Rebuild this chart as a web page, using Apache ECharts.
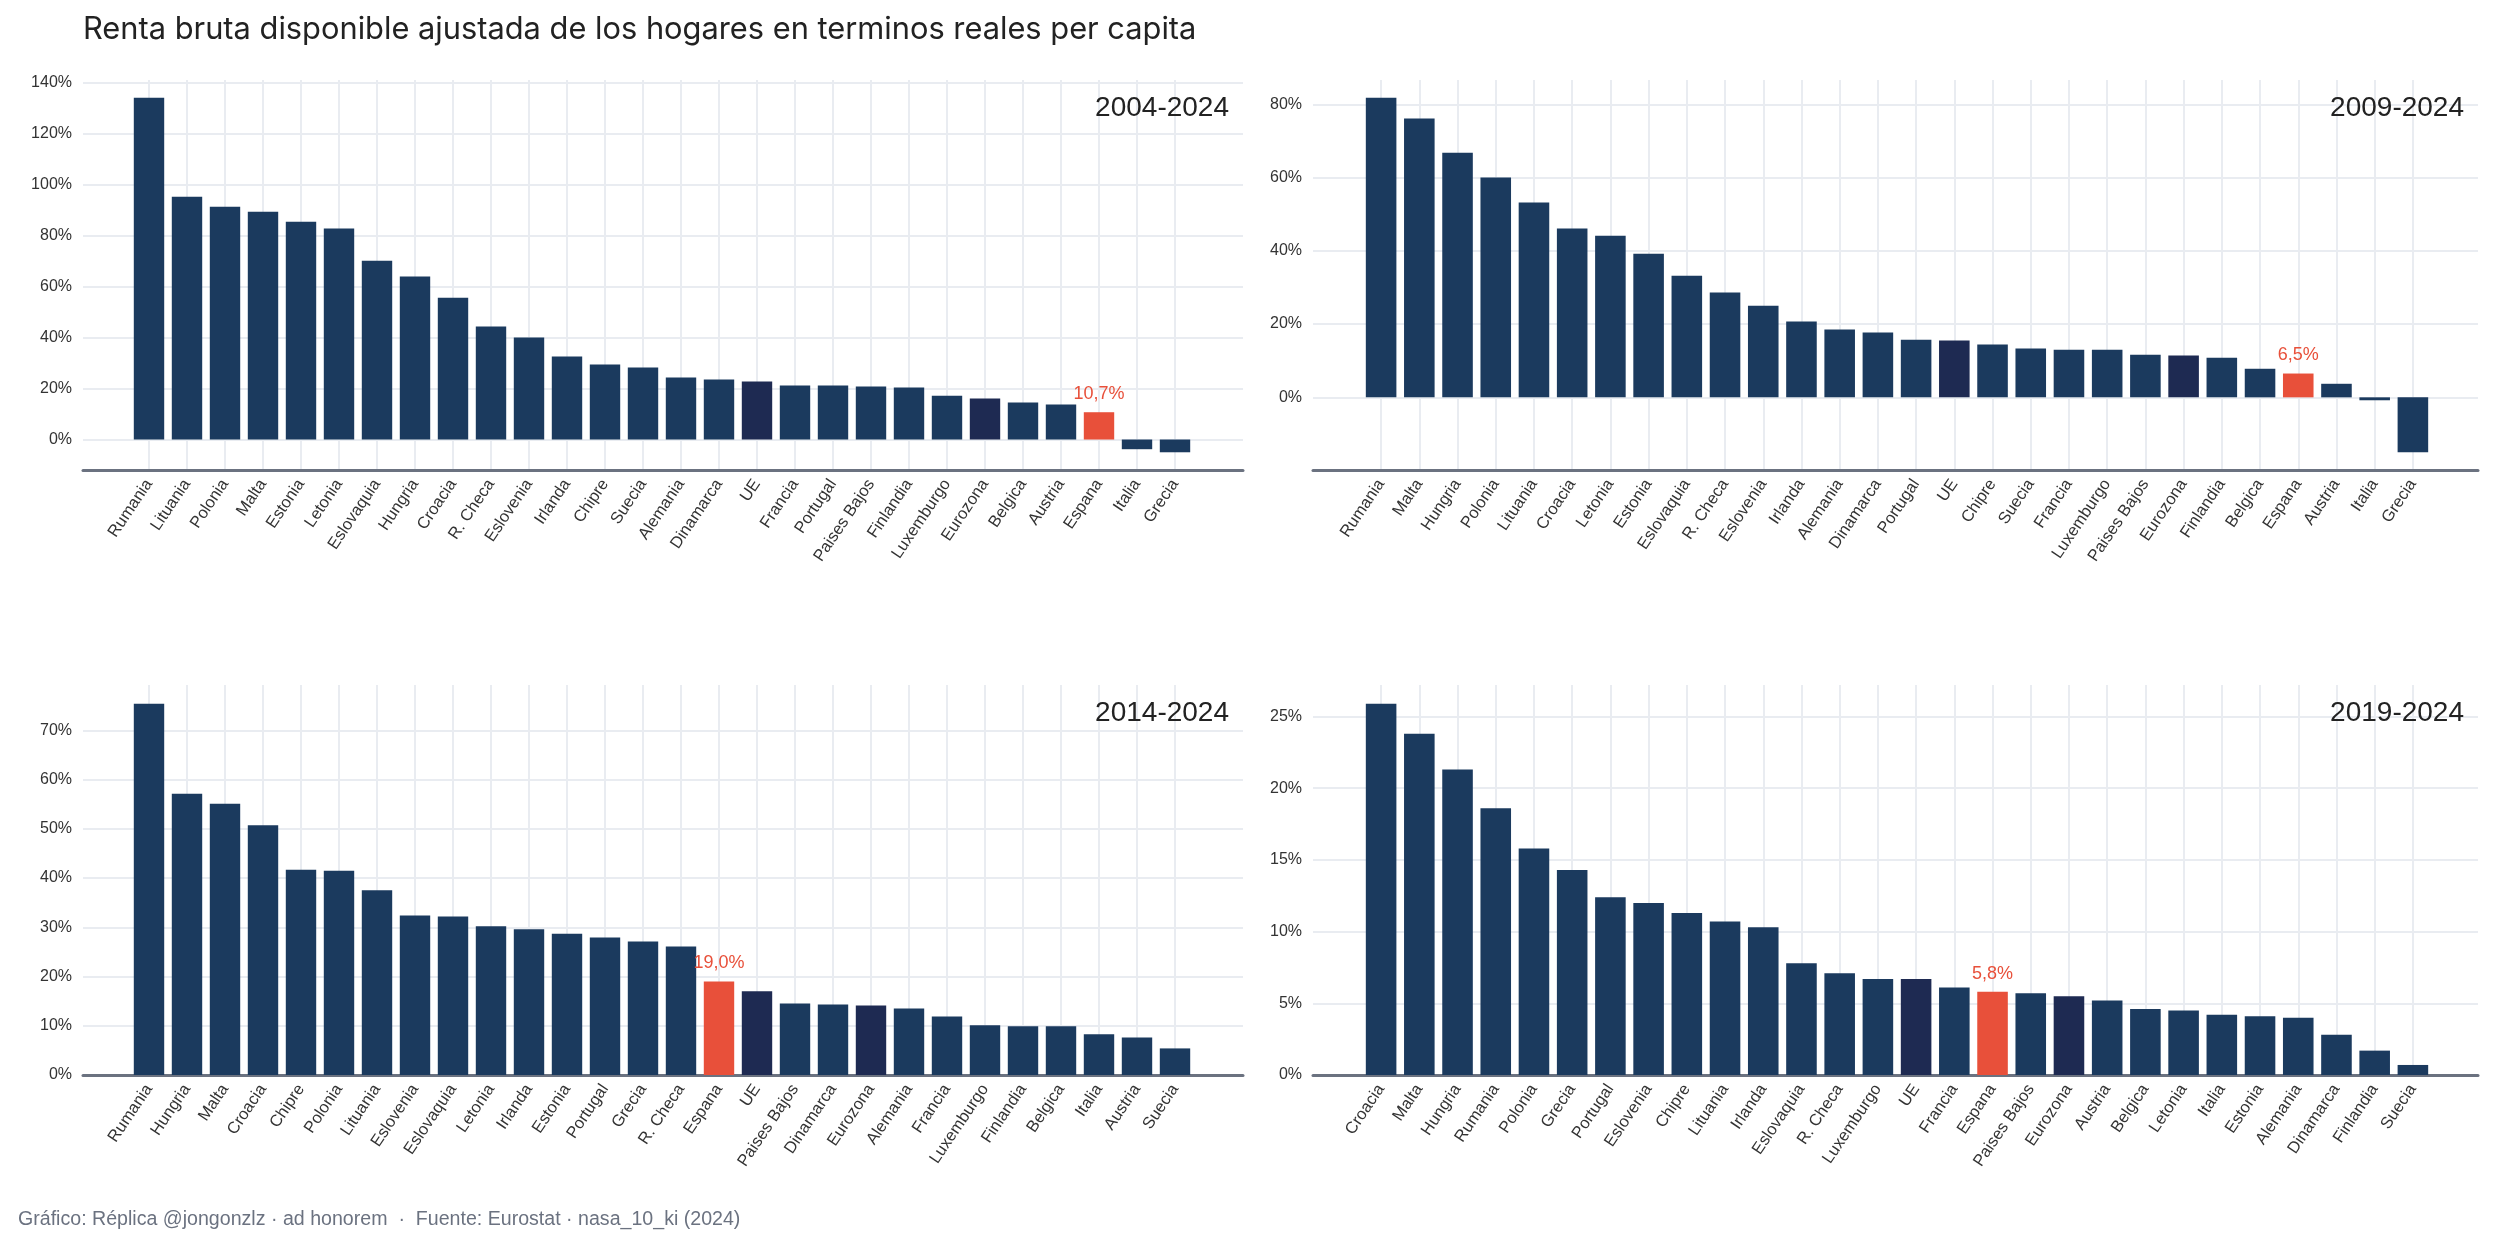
<!DOCTYPE html>
<html>
<head>
<meta charset="utf-8">
<title>Renta bruta disponible ajustada</title>
<script src="https://cdn.jsdelivr.net/npm/echarts@6/dist/echarts.min.js"></script>
<style>
  html, body { margin: 0; padding: 0; background: #fff; }
  #ech { width: 2493px; height: 1255px; }
</style>
</head>
<body>
<div id="ech"></div>
<script>
// datos (% de variacion)
var cats1 = ['Rumania', 'Lituania', 'Polonia', 'Malta', 'Estonia', 'Letonia', 'Eslovaquia', 'Hungria', 'Croacia', 'R. Checa', 'Eslovenia', 'Irlanda', 'Chipre', 'Suecia', 'Alemania', 'Dinamarca', 'UE', 'Francia', 'Portugal', 'Paises Bajos', 'Finlandia', 'Luxemburgo', 'Eurozona', 'Belgica', 'Austria', 'Espana', 'Italia', 'Grecia'];
var vals1 = [134.0, 95.2, 91.3, 89.3, 85.4, 82.7, 70.1, 63.9, 55.6, 44.3, 40.0, 32.5, 29.4, 28.2, 24.3, 23.5, 22.7, 21.2, 21.2, 20.8, 20.4, 17.2, 16.1, 14.5, 13.7, 10.7, -3.8, -5.0];

var cats2 = ['Rumania', 'Malta', 'Hungria', 'Polonia', 'Lituania', 'Croacia', 'Letonia', 'Estonia', 'Eslovaquia', 'R. Checa', 'Eslovenia', 'Irlanda', 'Alemania', 'Dinamarca', 'Portugal', 'UE', 'Chipre', 'Suecia', 'Francia', 'Luxemburgo', 'Paises Bajos', 'Eurozona', 'Finlandia', 'Belgica', 'Espana', 'Austria', 'Italia', 'Grecia'];
var vals2 = [81.8, 76.1, 66.8, 60.0, 53.2, 46.1, 44.1, 39.2, 33.2, 28.6, 25.0, 20.7, 18.5, 17.7, 15.7, 15.5, 14.4, 13.3, 13.0, 13.0, 11.6, 11.4, 10.8, 7.8, 6.5, 3.7, -0.8, -15.0];

var cats3 = ['Rumania', 'Hungria', 'Malta', 'Croacia', 'Chipre', 'Polonia', 'Lituania', 'Eslovenia', 'Eslovaquia', 'Letonia', 'Irlanda', 'Estonia', 'Portugal', 'Grecia', 'R. Checa', 'Espana', 'UE', 'Paises Bajos', 'Dinamarca', 'Eurozona', 'Alemania', 'Francia', 'Luxemburgo', 'Finlandia', 'Belgica', 'Italia', 'Austria', 'Suecia'];
var vals3 = [75.4, 57.1, 55.1, 50.7, 41.7, 41.5, 37.5, 32.4, 32.2, 30.2, 29.6, 28.7, 27.9, 27.1, 26.1, 19.0, 17.0, 14.5, 14.3, 14.1, 13.5, 11.9, 10.1, 9.9, 9.9, 8.3, 7.6, 5.4];

var cats4 = ['Croacia', 'Malta', 'Hungria', 'Rumania', 'Polonia', 'Grecia', 'Portugal', 'Eslovenia', 'Chipre', 'Lituania', 'Irlanda', 'Eslovaquia', 'R. Checa', 'Luxemburgo', 'UE', 'Francia', 'Espana', 'Paises Bajos', 'Eurozona', 'Austria', 'Belgica', 'Letonia', 'Italia', 'Estonia', 'Alemania', 'Dinamarca', 'Finlandia', 'Suecia'];
var vals4 = [25.9, 23.8, 21.3, 18.6, 15.8, 14.3, 12.4, 12.0, 11.3, 10.7, 10.3, 7.8, 7.1, 6.7, 6.7, 6.1, 5.8, 5.7, 5.5, 5.2, 4.6, 4.5, 4.2, 4.1, 4.0, 2.8, 1.7, 0.7];

var ticks1 = [0, 20, 40, 60, 80, 100, 120, 140];
var ticks2 = [0, 20, 40, 60, 80];
var ticks3 = [0, 10, 20, 30, 40, 50, 60, 70];
var ticks4 = [0, 5, 10, 15, 20, 25];

var periods = ['2004-2024', '2009-2024', '2014-2024', '2019-2024'];

var FONT = '"Liberation Sans", Arial, Helvetica, sans-serif';
var TITLE_FONT = 'Inter, "Liberation Sans", Arial, sans-serif';
var NAVY = '#1b3a5e', DARK = '#1e2a52', RED = '#e8503a', GRID = '#e9ecf1';

// posicion de cada panel (grid ancho = fondo, grid estrecho = barras)
var panels = [
	{cats: cats1, vals: vals1, ticks: ticks1, min: -11.95, max: 140.95, left: 83, top: 80, width: 1160, barLeft: 130, barWidth: 1064},
	{cats: cats2, vals: vals2, ticks: ticks2, min: -19.84, max: 86.64, left: 1313, top: 80, width: 1165, barLeft: 1362, barWidth: 1070},
	{cats: cats3, vals: vals3, ticks: ticks3, min: 0, max: 79.2, left: 83, top: 685, width: 1160, barLeft: 130, barWidth: 1064},
	{cats: cats4, vals: vals4, ticks: ticks4, min: 0, max: 27.2, left: 1313, top: 685, width: 1165, barLeft: 1362, barWidth: 1070}
];
var H = 390;

function pct(v) {
	return v.toFixed(1).replace('.', ',') + '%';
}

function showEchart() {
	var myChart = echarts.init(document.getElementById('ech'));
	var grid = [], xAxis = [], yAxis = [], series = [], graphic = [];

	panels.forEach(function(p, i) {
		var gw = 2 * i, gb = 2 * i + 1;
		grid.push({left: p.left, top: p.top, width: p.width, height: H, outerBoundsMode: 'none'});
		grid.push({left: p.barLeft, top: p.top, width: p.barWidth, height: H, outerBoundsMode: 'none'});

		xAxis.push({
			gridIndex: gw, type: 'value', min: 0, max: 1,
			axisLine: {show: true, onZero: false, lineStyle: {color: '#6b7280', width: 3}},
			axisTick: {show: false}, axisLabel: {show: false}, splitLine: {show: false}
		});
		xAxis.push({
			gridIndex: gb, type: 'category', data: p.cats,
			axisLine: {show: false}, axisTick: {show: false},
			axisLabel: {interval: 0, rotate: 56, margin: 11, fontSize: 16.5, color: '#333', fontFamily: FONT},
			splitLine: {show: true, alignWithLabel: true, lineStyle: {color: GRID, width: 2}}
		});

		yAxis.push({
			gridIndex: gw, type: 'value', min: p.min, max: p.max,
			axisLine: {show: false},
			axisTick: {show: false, customValues: p.ticks},
			axisLabel: {customValues: p.ticks, formatter: '{value}%', fontSize: 16, color: '#333', margin: 11, fontFamily: FONT},
			splitLine: {show: true, lineStyle: {color: GRID, width: 2}}
		});
		yAxis.push({gridIndex: gb, type: 'value', min: p.min, max: p.max, show: false});

		series.push({
			type: 'bar',
			xAxisIndex: gb, yAxisIndex: gb,
			barCategoryGap: '20%',
			data: p.vals.map(function(v, k) {
				var c = p.cats[k];
				var item = {value: v, itemStyle: {color: c === 'Espana' ? RED : (c === 'UE' || c === 'Eurozona') ? DARK : NAVY}};
				if (c === 'Espana') {
					item.label = {show: true, position: 'top', distance: 9, formatter: pct(v), color: RED, fontSize: 18, fontFamily: FONT};
				}
				return item;
			})
		});

		graphic.push({
			type: 'text', z: 100,
			style: {x: p.left + p.width - 14, y: p.top + 28, text: periods[i], align: 'right', verticalAlign: 'middle', fill: '#222', font: '28px ' + FONT}
		});
	});

	graphic.push({
		type: 'text', z: 100,
		style: {x: 83, y: 30, text: 'Renta bruta disponible ajustada de los hogares en terminos reales per capita', align: 'left', verticalAlign: 'middle', fill: '#222', font: '30.8px ' + TITLE_FONT}
	});
	graphic.push({
		type: 'text', z: 100,
		style: {x: 18, y: 1220, text: 'Gráfico: Réplica @jongonzlz · ad honorem  ·  Fuente: Eurostat · nasa_10_ki (2024)', align: 'left', verticalAlign: 'middle', fill: '#6b7280', font: '19.6px ' + FONT}
	});

	var option = {
		animation: false,
		backgroundColor: '#fff',
		grid: grid,
		xAxis: xAxis,
		yAxis: yAxis,
		series: series,
		graphic: graphic
	};
	myChart.setOption(option);
}

showEchart();
</script>
</body>
</html>
